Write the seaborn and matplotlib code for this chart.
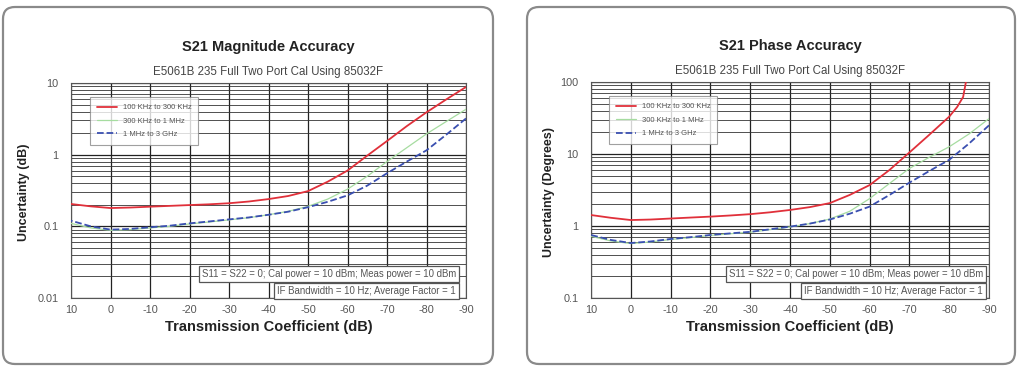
import numpy as np
import pandas as pd
import seaborn as sns
import matplotlib.pyplot as plt
from matplotlib.patches import FancyBboxPatch
from matplotlib.ticker import LogLocator, NullFormatter, FixedLocator

# transmission coefficient (dB)
atten = [10, 5, 0, -5, -10, -15, -20, -25, -30, -35, -40, -45, -50, -55, -60, -65, -70, -75, -80, -85, -90]

# S21 magnitude uncertainty (dB)
mag_100k = [0.205, 0.19, 0.18, 0.183, 0.188, 0.193, 0.198, 0.203, 0.21, 0.222, 0.24, 0.265, 0.31,
            0.42, 0.6, 0.97, 1.55, 2.5, 3.9, 5.9, 8.8]
mag_300k = [0.11, 0.095, 0.088, 0.09, 0.095, 0.1, 0.108, 0.115, 0.123, 0.132, 0.145, 0.162, 0.19,
            0.24, 0.33, 0.5, 0.8, 1.25, 1.95, 2.9, 4.3]
mag_1m = [0.12, 0.1, 0.09, 0.092, 0.097, 0.102, 0.11, 0.117, 0.125, 0.133, 0.145, 0.16, 0.185,
          0.22, 0.27, 0.37, 0.55, 0.8, 1.15, 1.9, 3.2]

# S21 phase uncertainty (degrees); low band curve runs off the top near -84 dB
atten_ph_100k = [10, 5, 0, -5, -10, -15, -20, -25, -30, -35, -40, -45, -50, -55, -60, -65, -70, -75,
                 -80, -82, -83.5, -84.2]
ph_100k = [1.42, 1.3, 1.21, 1.23, 1.27, 1.31, 1.35, 1.4, 1.46, 1.55, 1.67, 1.83, 2.08, 2.7, 3.7,
           6.0, 10.5, 18.5, 33, 45, 62, 100]
ph_300k = [0.72, 0.62, 0.57, 0.6, 0.65, 0.69, 0.74, 0.78, 0.82, 0.89, 0.97, 1.08, 1.25, 1.6, 2.4,
           3.9, 6.3, 9.0, 12.6, 19, 31]
ph_1m = [0.75, 0.64, 0.58, 0.61, 0.66, 0.7, 0.75, 0.79, 0.83, 0.9, 0.98, 1.08, 1.23, 1.48, 1.86,
         2.7, 4.0, 5.8, 8.3, 14, 25]

labels = ['100 KHz to 300 KHz', '300 KHz to 1 MHz', '1 MHz to 3 GHz']
colors = ['#e0303a', '#a6dca0', '#3a4fb0']
xticks = [10, 0, -10, -20, -30, -40, -50, -60, -70, -80, -90]
note1 = 'S11 = S22 = 0; Cal power = 10 dBm; Meas power = 10 dBm'
note2 = 'IF Bandwidth = 10 Hz; Average Factor = 1'

sns.set_style("white")
plt.rcParams['font.family'] = ['Liberation Sans', 'DejaVu Sans']
plt.rcParams['axes.unicode_minus'] = False

fig = plt.figure(figsize=(10.18, 3.70), dpi=100)
ax1 = fig.add_axes([71/1018, 1-298/370, 395/1018, 215/370])
ax2 = fig.add_axes([591/1018, 1-298/370, 398/1018, 216/370])

# rounded frames around each chart (pixel coords)
for x0, x1 in [(3, 493), (527, 1015)]:
    box = FancyBboxPatch((x0, 6), x1-x0, 357, boxstyle="round,pad=0,rounding_size=12",
                         transform=None, facecolor='none', edgecolor='#8a8a8a', lw=1.6)
    fig.patches.append(box)


def draw(ax, series, ylim, title, ylabel, ylab_x, legend_x, note_x):
    for (xs, ys), lab, col in zip(series, labels, colors):
        df = pd.DataFrame({'x': xs, 'y': ys})
        ls = '--' if lab.startswith('1 MHz') else '-'
        lw = 0.9 if lab.startswith('300') else 1.3
        sns.lineplot(data=df, x='x', y='y', ax=ax, color=col, linestyle=ls, lw=lw, label=lab,
                     zorder=3)
    ax.set_yscale('log')
    ax.set_xlim(10, -90)
    ax.set_ylim(*ylim)
    ax.xaxis.set_major_locator(FixedLocator(xticks))
    ax.yaxis.set_major_locator(LogLocator(base=10))
    ax.yaxis.set_minor_locator(LogLocator(base=10, subs=np.arange(2, 10)))
    ax.yaxis.set_minor_formatter(NullFormatter())
    ax.yaxis.set_major_formatter(plt.FuncFormatter(lambda v, p: f'{v:g}'))
    ax.grid(which='major', color='#222222', lw=0.9)
    ax.grid(which='minor', axis='y', color='#333333', lw=0.6)
    for s in ax.spines.values():
        s.set_color('#555555')
        s.set_linewidth(0.8)
    ax.tick_params(which='both', length=0, labelsize=7.8, colors='#555555')
    ax.tick_params(axis='x', pad=5)
    ax.tick_params(axis='y', pad=9)

    ax.text(0.5, 1.167, title, transform=ax.transAxes, ha='center', va='center',
            fontsize=10.5, fontweight='bold', color='#222222')
    ax.text(0.5, 1.051, 'E5061B 235 Full Two Port Cal Using 85032F', transform=ax.transAxes,
            ha='center', va='center', fontsize=8.3, color='#444444')

    ax.set_xlabel('Transmission Coefficient (dB)', fontsize=10.5, fontweight='bold', color='#222222')
    ax.xaxis.set_label_coords(0.5, -0.1)
    ax.set_ylabel(ylabel, fontsize=9, fontweight='bold', color='#222222')
    ax.yaxis.set_label_coords(ylab_x, 0.49)

    leg = ax.legend(loc='upper left', bbox_to_anchor=(legend_x, 0.935), fontsize=5.5,
                    frameon=True, fancybox=False, edgecolor='#888888', borderaxespad=0,
                    handlelength=2.6, labelspacing=0.8, borderpad=0.9)
    leg.get_frame().set_linewidth(0.8)
    for t in leg.get_texts():
        t.set_color('#555555')

    bbox = dict(boxstyle='square,pad=0.3', facecolor='white', edgecolor='#555555', lw=0.9)
    ax.text(note_x, 0.11, note1, transform=ax.transAxes, ha='right', va='center',
            fontsize=6.9, color='#555555', bbox=bbox, zorder=5)
    ax.text(note_x, 0.033, note2, transform=ax.transAxes, ha='right', va='center',
            fontsize=6.9, color='#555555', bbox=bbox, zorder=5)


draw(ax1, [(atten, mag_100k), (atten, mag_300k), (atten, mag_1m)], (0.01, 10),
     'S21 Magnitude Accuracy', 'Uncertainty (dB)', -0.105, 0.048, 0.975)
draw(ax2, [(atten_ph_100k, ph_100k), (atten, ph_300k), (atten, ph_1m)], (0.1, 100),
     'S21 Phase Accuracy', 'Uncertainty (Degrees)', -0.09, 0.045, 0.985)

fig.savefig('out.png', dpi=100)
